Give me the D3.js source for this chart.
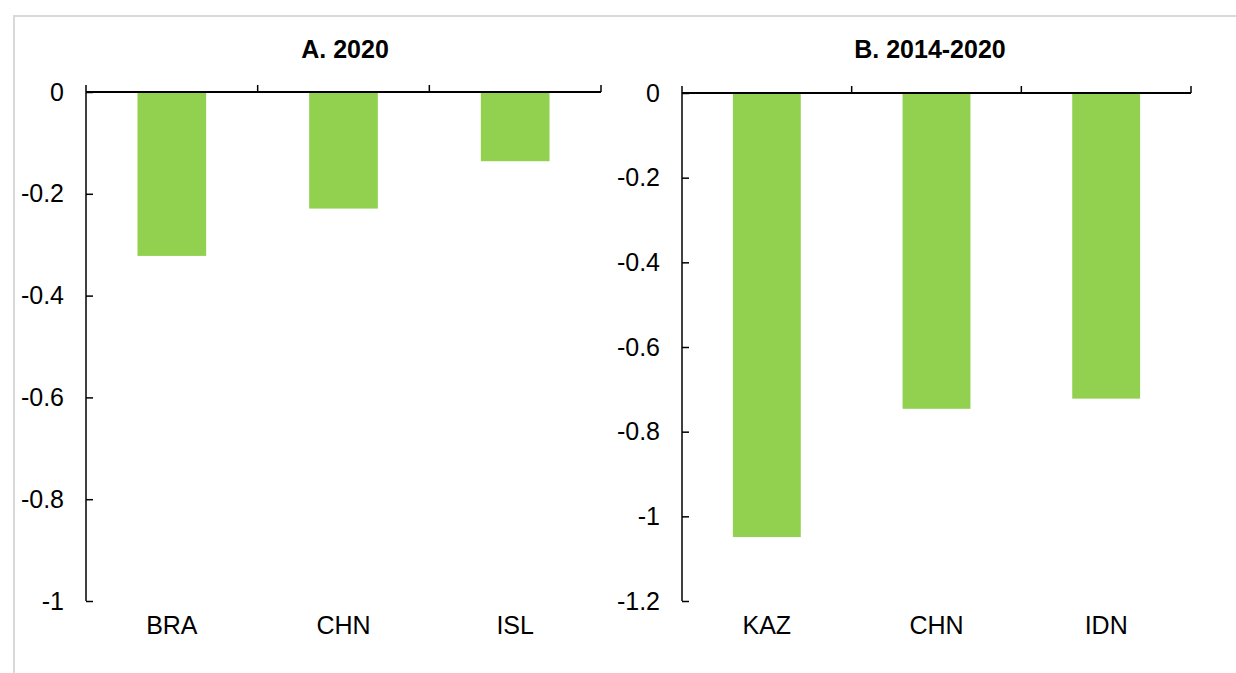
<!DOCTYPE html>
<html><head><meta charset="utf-8">
<script src="https://cdn.jsdelivr.net/npm/d3@7"></script>
<style>body{margin:0;background:#fff}svg{display:block}</style>
</head><body><svg id="c" width="1236" height="673"></svg>
<script>
const categoriesA = ["BRA", "CHN", "ISL"];
const valuesA = [-0.322, -0.229, -0.136];
const ticksA = [0, -0.2, -0.4, -0.6, -0.8, -1];
const titleA = "A. 2020";

const categoriesB = ["KAZ", "CHN", "IDN"];
const valuesB = [-1.049, -0.746, -0.722];
const ticksB = [0, -0.2, -0.4, -0.6, -0.8, -1, -1.2];
const titleB = "B. 2014-2020";

const FONT = "Liberation Sans, Arial, sans-serif";
const svg = d3.select("#c");
svg.append("rect").attr("x", 14).attr("y", 16).attr("width", 1240).attr("height", 700)
  .attr("fill", "none").attr("stroke", "#d9d9d9").attr("stroke-width", 2);

function panel(cats, vals, ticks, title, x0, x1, y0, y1, yMin, titleX, titleY) {
  const g = svg.append("g");
  const x = d3.scaleBand().domain(cats).range([x0, x1]).paddingInner(0.6).paddingOuter(0.3);
  const xb = d3.scaleBand().domain(cats).range([x0, x1]);
  const y = d3.scaleLinear().domain([0, yMin]).range([y0, y1]);
  g.selectAll("rect.bar").data(cats).join("rect").attr("class", "bar")
    .attr("x", d => x(d)).attr("width", x.bandwidth())
    .attr("y", y(0)).attr("height", (d, i) => y(vals[i]) - y(0))
    .attr("fill", "#92d050");
  const ya = d3.axisLeft(y).tickValues(ticks).tickSize(-7).tickPadding(22);
  const yg = g.append("g").attr("transform", `translate(${x0},0)`).call(ya);
  yg.select(".domain").attr("stroke", "#000").attr("stroke-width", 1.5).attr("d", `M0,${y0}V${y1}`);
  yg.selectAll(".tick line").attr("stroke", "#000").attr("stroke-width", 1.5);
  yg.selectAll(".tick text").attr("font-family", FONT).attr("font-size", 25).attr("fill", "#000")
    .text(d => String(+d.toFixed(1)));
  g.append("line").attr("x1", x0).attr("x2", x1).attr("y1", y(0)).attr("y2", y(0)).attr("stroke", "#000").attr("stroke-width", 2);
  const bounds = cats.map(c => xb(c)).concat([x1]);
  g.selectAll("line.bt").data(bounds).join("line").attr("class", "bt")
    .attr("x1", d => d).attr("x2", d => d).attr("y1", y(0)).attr("y2", y(0) - 7)
    .attr("stroke", "#000").attr("stroke-width", 1.5);
  g.selectAll("text.cat").data(cats).join("text").attr("class", "cat")
    .attr("x", d => xb(d) + xb.bandwidth() / 2).attr("y", y1 + 33)
    .attr("text-anchor", "middle").attr("font-family", FONT)
    .attr("font-size", 25).text(d => d);
  g.append("text").attr("x", titleX).attr("y", titleY).attr("text-anchor", "middle")
    .attr("font-family", FONT).attr("font-weight", "bold")
    .attr("font-size", 25).text(title);
}
panel(categoriesA, valuesA, ticksA, titleA, 86, 601, 92, 601, -1, 345, 58);
panel(categoriesB, valuesB, ticksB, titleB, 682, 1191, 93, 601, -1.2, 930, 58);
</script></body></html>
